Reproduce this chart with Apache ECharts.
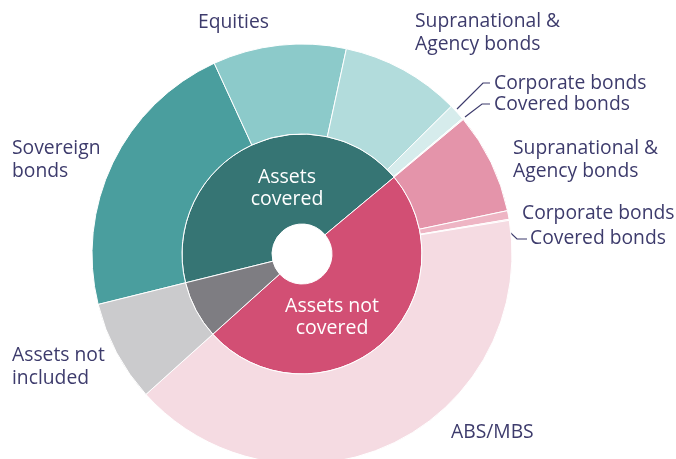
<!DOCTYPE html>
<html>
<head>
<meta charset="utf-8">
<script src="https://cdn.jsdelivr.net/npm/echarts@6/dist/echarts.min.js"></script>
<style>
html, body { margin: 0; padding: 0; background: #fff; }
#chart { width: 676px; height: 459px; }
</style>
</head>
<body>
<div id="chart"></div>
<script>
// inner ring
var groups = ['Assets\ncovered', 'Assets not\ncovered', 'Assets not\nincluded'];
var groupValues = [42.8, 49.4, 7.8];
// outer ring
var holdings = ['Sovereign\nbonds', 'Equities', 'Supranational &\nAgency bonds', 'Corporate bonds', 'Covered bonds',
    'Supranational &\nAgency bonds', 'Corporate bonds', 'Covered bonds', 'ABS/MBS', 'Assets not\nincluded'];
var holdingValues = [22.0, 10.25, 9.2, 1.25, 0.1, 7.75, 0.67, 0.08, 40.9, 7.8];

var groupColors = ['#367574', '#d24f74', '#7e7d82'];
var holdingColors = ['#4a9e9e', '#8ccaca', '#b2dcdc', '#d6ecec', '#eaf5f5', '#e494aa', '#eeb5c4', '#f2c6d2', '#f5dbe2', '#cbcbcd'];

// label spots (top-left of text) and leader lines
var outerLabelPos = [[12, 137], [198, 11], [415, 10], [494, 72], [494, 93], [513, 137], [522, 202], [530, 227], [451, 421], [12, 344]];
var outerLeaders = {
    3: [[457, 109], [483, 83], [490, 83]],
    4: [[465, 117], [482, 104], [490, 104]],
    7: [[498, 221], [517, 239], [527, 239]]
};
var innerLabelPos = [[287, 188], [332, 317]];

var textColor = '#3d3b6c';
var font = '"Open Sans", sans-serif';

echarts.init(document.getElementById('chart')).setOption({
    animation: false,
    series: [{
        type: 'pie',
        center: [302, 254],
        radius: [30, 120],
        startAngle: 193.9,
        avoidLabelOverlap: false,
        silent: true,
        itemStyle: { borderColor: '#fff', borderWidth: 1 },
        label: {
            position: 'inside',
            color: '#fff',
            fontFamily: font,
            fontSize: 19.5,
            lineHeight: 22,
            formatter: '{b}'
        },
        labelLine: { show: false },
        labelLayout: function (p) {
            var pos = innerLabelPos[p.dataIndex];
            if (!pos) return {};
            return { x: pos[0], y: pos[1], align: 'center', verticalAlign: 'middle' };
        },
        data: groups.map(function (g, i) {
            return {
                name: g,
                value: groupValues[i],
                itemStyle: { color: groupColors[i] },
                label: { show: i < 2 }
            };
        })
    }, {
        type: 'pie',
        center: [302, 254],
        radius: [120, 210],
        startAngle: 193.9,
        avoidLabelOverlap: false,
        silent: true,
        itemStyle: { borderColor: '#fff', borderWidth: 1 },
        label: {
            position: 'outside',
            color: textColor,
            fontFamily: font,
            fontSize: 19.3,
            lineHeight: 23,
            formatter: '{b}'
        },
        labelLine: {
            lineStyle: { color: textColor, width: 1.2 }
        },
        labelLayout: function (p) {
            var pos = outerLabelPos[p.dataIndex];
            var out = { x: pos[0], y: pos[1], align: 'left', verticalAlign: 'top' };
            if (outerLeaders[p.dataIndex]) out.labelLinePoints = outerLeaders[p.dataIndex];
            return out;
        },
        data: holdings.map(function (h, i) {
            return {
                name: h,
                value: holdingValues[i],
                itemStyle: { color: holdingColors[i] },
                labelLine: { show: !!outerLeaders[i] }
            };
        })
    }]
});
</script>
</body>
</html>
